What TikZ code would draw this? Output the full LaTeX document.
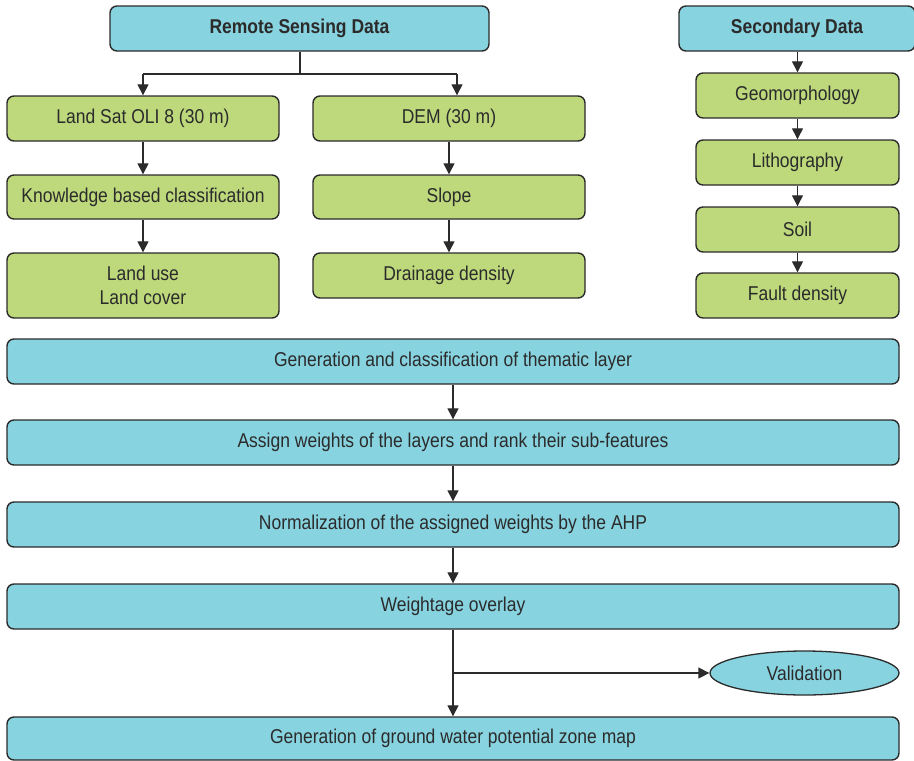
\documentclass[tikz,border=0pt]{standalone}
\usepackage{fontspec}
\setmainfont{Liberation Sans}[FakeStretch=0.875]
\usetikzlibrary{arrows.meta,shapes.geometric}
\definecolor{cy}{HTML}{88D3E0}
\definecolor{gr}{HTML}{BDD97C}
\definecolor{ln}{HTML}{2B2B2B}
\tikzset{
  box/.style={draw=ln,line width=1.4pt,rounded corners=7pt,inner sep=0pt,font=\fontsize{20}{24}\selectfont,text=ln,align=center},
  cbox/.style={box,fill=cy},
  gbox/.style={box,fill=gr},
  arr/.style={draw=ln,line width=1.3pt,-{Triangle[length=11pt,width=11pt]}},
  lin/.style={draw=ln,line width=1.3pt}
}
\begin{document}
\begin{tikzpicture}[x=1pt,y=-1pt]
\useasboundingbox (0,0) rectangle (914,761);
% top
\node[cbox,minimum width=379pt,minimum height=45pt,font=\fontsize{20}{24}\selectfont\bfseries] (rs) at (299.5,28.5) {Remote Sensing Data};
\node[cbox,minimum width=236pt,minimum height=45pt,font=\fontsize{20}{24}\selectfont\bfseries] (sd) at (797,28.5) {Secondary Data};
% left columns
\node[gbox,minimum width=272pt,minimum height=45pt] (ls) at (143,118.5) {Land Sat OLI 8 (30 m)};
\node[gbox,minimum width=272pt,minimum height=45pt] (dem) at (449,118.5) {DEM (30 m)};
\node[gbox,minimum width=272pt,minimum height=44pt] (kb) at (143,197) {Knowledge based classification};
\node[gbox,minimum width=272pt,minimum height=44pt] (sl) at (449,197) {Slope};
\node[gbox,minimum width=272pt,minimum height=65pt] (lu) at (143,285.5) {Land use\\Land cover};
\node[gbox,minimum width=272pt,minimum height=45pt] (dd) at (449,275.5) {Drainage density};
% right column
\node[gbox,minimum width=203pt,minimum height=45pt] (geo) at (797.5,95.5) {Geomorphology};
\node[gbox,minimum width=203pt,minimum height=45pt] (lit) at (797.5,162.5) {Lithography};
\node[gbox,minimum width=203pt,minimum height=45pt] (soil) at (797.5,229.5) {Soil};
\node[gbox,minimum width=203pt,minimum height=45pt] (fd) at (797.5,295.5) {Fault density};
% main flow
\node[cbox,minimum width=892pt,minimum height=45pt] (gen) at (453,361.5) {Generation and classification of thematic layer};
\node[cbox,minimum width=892pt,minimum height=45pt] (aw) at (453,442.5) {Assign weights of the layers and rank their sub-features};
\node[cbox,minimum width=892pt,minimum height=45pt] (nor) at (453,524.5) {Normalization of the assigned weights by the AHP};
\node[cbox,minimum width=892pt,minimum height=45pt] (wo) at (453,606.5) {Weightage overlay};
\node[cbox,draw=ln,line width=1.3pt,ellipse,minimum width=189pt,minimum height=44pt,rounded corners=0pt] (val) at (804.5,673) {Validation};
\node[cbox,minimum width=892pt,minimum height=43pt] (gw) at (453,738.5) {Generation of ground water potential zone map};
% connectors
\coordinate (f0) at (300,74);
\coordinate (fl) at (143,74);
\coordinate (fr) at (457,74);
\draw[lin] (rs.south -| f0) -- (f0);
\draw[lin] (fl) -- (fr);
\draw[arr] (fl) -- (ls.north);
\draw[arr] (fr) -- (fr |- dem.north);
\draw[arr] (ls) -- (kb);
\draw[arr] (kb) -- (lu);
\draw[arr] (dem) -- (sl);
\draw[arr] (sl) -- (dd);
\draw[arr] (sd.south -| geo) -- (geo.north);
\draw[arr] (geo) -- (lit);
\draw[arr] (lit) -- (soil);
\draw[arr] (soil) -- (fd);
\draw[arr] (gen) -- (aw);
\draw[arr] (aw) -- (nor);
\draw[arr] (nor) -- (wo);
\draw[arr] (wo) -- (gw);
\coordinate (vb) at (453,673);
\draw[arr] (vb) -- (val.west);
\end{tikzpicture}
\end{document}
